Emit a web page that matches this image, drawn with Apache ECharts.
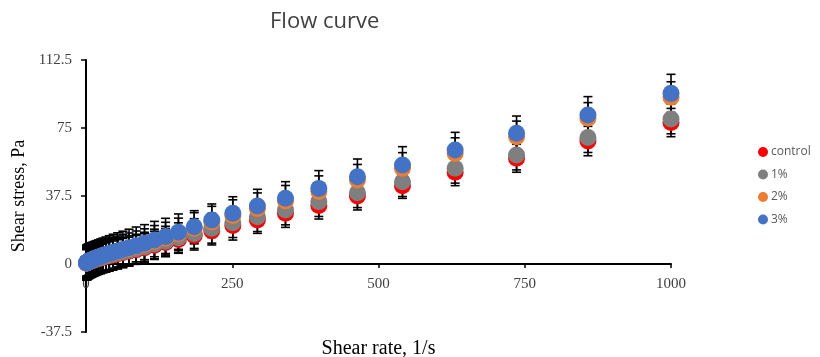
<!DOCTYPE html>
<html>
<head>
<meta charset="utf-8">
<script src="https://cdn.jsdelivr.net/npm/echarts@6/dist/echarts.min.js"></script>
<style>
  html, body { margin: 0; padding: 0; background: #fff; }
  #chart { width: 820px; height: 357px; }
</style>
</head>
<body>
<div id="chart"></div>
<script>
// shear rate, 1/s
const shearRates = [1, 1.17, 1.36, 1.58, 1.85, 2.15, 2.51, 2.93, 3.41, 3.98, 4.64, 5.41, 6.31, 7.36, 8.58, 10,
  11.7, 13.6, 15.8, 18.5, 21.5, 25.1, 29.3, 34.1, 39.8, 46.4, 54.1, 63.1, 73.6, 85.8, 100,
  117, 136, 158, 185, 215, 251, 293, 341, 398, 464, 541, 631, 736, 858, 1000];

// shear stress, Pa
const controlStress = [0.45, 0.55, 0.65, 0.7, 0.75, 0.8, 0.9, 0.95, 1.05, 1.15, 1.2, 1.3, 1.4, 1.5, 1.7, 1.85,
  2.0, 2.2, 2.5, 2.7, 3.0, 3.3, 3.7, 4.1, 4.5, 5.0, 5.6, 6.3, 7.0, 7.9, 8.9,
  10.3, 11.8, 13.5, 15.7, 18.3, 21.2, 24.3, 28.0, 32.2, 37.5, 43.2, 50.6, 58.3, 67.8, 78.0];
const stress1 = [0.5, 0.6, 0.7, 0.75, 0.8, 0.85, 0.95, 1.0, 1.1, 1.2, 1.3, 1.4, 1.5, 1.6, 1.8, 1.95,
  2.1, 2.4, 2.6, 2.9, 3.2, 3.5, 3.9, 4.4, 4.8, 5.4, 6.0, 6.7, 7.5, 8.4, 9.5,
  11.0, 12.6, 14.5, 16.8, 19.7, 22.8, 26.1, 29.8, 34.4, 39.3, 45.4, 52.8, 60.1, 69.7, 80.0];
const stress2 = [0.55, 0.65, 0.75, 0.8, 0.9, 0.95, 1.05, 1.15, 1.25, 1.35, 1.45, 1.55, 1.7, 1.8, 2.0, 2.2,
  2.4, 2.7, 3.0, 3.3, 3.6, 4.0, 4.5, 5.0, 5.5, 6.2, 6.9, 7.7, 8.6, 9.7, 10.9,
  12.6, 14.4, 16.7, 19.7, 23.2, 26.8, 30.6, 34.7, 40.0, 46.3, 52.8, 61.0, 70.2, 80.4, 91.9];
const stress3 = [0.6, 0.7, 0.8, 0.85, 0.95, 1.0, 1.1, 1.2, 1.3, 1.4, 1.5, 1.6, 1.8, 1.9, 2.1, 2.3,
  2.5, 2.8, 3.1, 3.4, 3.8, 4.2, 4.7, 5.2, 5.8, 6.5, 7.2, 8.0, 9.0, 10.1, 11.4,
  13.2, 15.1, 17.5, 20.6, 24.3, 28.0, 32.0, 36.2, 41.7, 48.1, 54.6, 62.9, 72.1, 82.2, 94.1];

// standard deviations, Pa
const controlSd = [7.5, 7.5, 7.5, 7.5, 7.5, 7.5, 7.5, 7.5, 7.5, 7.5, 7.5, 7.5, 7.5, 7.5, 7.5, 7.5,
  7.5, 7.5, 7.6, 7.6, 7.6, 7.6, 7.7, 7.7, 7.7, 7.7, 7.8, 7.8, 7.8, 7.8, 7.8,
  7.8, 7.8, 7.6, 8.0, 7.8, 8.0, 7.4, 7.8, 7.4, 7.7, 7.0, 7.4, 7.7, 8.1, 7.8];
const sd1 = [8.0, 8.0, 8.0, 8.0, 8.0, 8.0, 8.0, 8.0, 8.0, 8.0, 8.0, 8.0, 8.0, 8.0, 8.0, 8.0,
  8.0, 8.0, 8.0, 8.0, 8.0, 8.0, 8.0, 8.0, 8.0, 8.0, 8.0, 8.0, 8.0, 8.0, 8.0,
  8.2, 8.2, 8.2, 8.2, 8.2, 8.2, 8.2, 8.2, 8.2, 8.2, 8.2, 8.2, 8.2, 8.2, 8.2];
const sd2 = [8.5, 8.5, 8.5, 8.5, 8.5, 8.5, 8.5, 8.5, 8.5, 8.5, 8.5, 8.5, 8.5, 8.5, 8.5, 8.5,
  8.5, 8.5, 8.5, 8.5, 8.5, 8.5, 8.5, 8.5, 8.5, 8.5, 8.5, 8.5, 8.5, 8.5, 8.5,
  8.6, 8.6, 8.6, 8.6, 8.6, 8.6, 8.6, 8.6, 8.6, 8.6, 8.6, 8.6, 8.6, 8.6, 8.6];
const sd3 = [9.5, 9.5, 9.5, 9.5, 9.5, 9.5, 9.5, 9.5, 9.5, 9.5, 9.5, 9.5, 9.5, 9.5, 9.5, 9.5,
  9.5, 9.5, 9.5, 9.5, 9.5, 9.6, 9.6, 9.7, 9.8, 9.9, 10.0, 10.1, 10.2, 10.3, 10.3,
  10.3, 10.1, 10.1, 8.8, 8.8, 9.1, 9.2, 9.2, 9.8, 9.8, 10.1, 9.7, 9.5, 10.1, 10.5];

const seriesNames = ['control', '1%', '2%', '3%'];
const seriesColors = ['#ff0000', '#7f7f7f', '#ed7d31', '#4472c4'];
const seriesValues = [controlStress, stress1, stress2, stress3];
const seriesSd = [controlSd, sd1, sd2, sd3];

const serif = 'Liberation Serif';

const errorBars = (values, sd) => ({
  type: 'custom',
  silent: true,
  z: 1,
  data: shearRates.map((x, i) => [x, values[i] - sd[i], values[i] + sd[i]]),
  encode: { x: 0, y: [1, 2] },
  renderItem: (params, api) => {
    const lo = api.coord([api.value(0), api.value(1)]);
    const hi = api.coord([api.value(0), api.value(2)]);
    const half = 4.5;
    const style = { stroke: '#000', lineWidth: 1.6 };
    return {
      type: 'group',
      children: [
        { type: 'line', shape: { x1: lo[0], y1: lo[1], x2: hi[0], y2: hi[1] }, style },
        { type: 'line', shape: { x1: lo[0] - half, y1: lo[1], x2: lo[0] + half, y2: lo[1] }, style },
        { type: 'line', shape: { x1: hi[0] - half, y1: hi[1], x2: hi[0] + half, y2: hi[1] }, style },
      ],
    };
  },
});

const series = [];
seriesNames.forEach((name, k) => {
  series.push(errorBars(seriesValues[k], seriesSd[k]));
});
seriesNames.forEach((name, k) => {
  series.push({
    name,
    type: 'scatter',
    z: 3,
    symbol: 'circle',
    symbolSize: 17,
    itemStyle: { color: seriesColors[k], opacity: 1 },
    data: shearRates.map((x, i) => [x, seriesValues[k][i]]),
  });
});

const myChart = echarts.init(document.getElementById('chart'));

const option = {
  animation: false,
  title: {
    text: 'Flow curve',
    left: 265,
    top: 6,
    textStyle: { fontFamily: 'Open Sans', fontSize: 22, fontWeight: 'normal', color: '#404040' },
  },
  legend: {
    data: seriesNames,
    orient: 'vertical',
    left: 753,
    top: 141,
    itemWidth: 10,
    itemHeight: 10,
    itemGap: 10.5,
    icon: 'circle',
    textStyle: { fontFamily: 'Open Sans', fontSize: 12, color: '#595959', padding: [0, 0, 0, -2] },
  },
  grid: { left: 86, right: 149, top: 60, bottom: 25, containLabel: false, outerBoundsMode: 'none' },
  xAxis: {
    type: 'value',
    min: 0,
    max: 1000,
    interval: 250,
    offset: -68,
    name: 'Shear rate, 1/s',
    nameLocation: 'middle',
    nameGap: 75,
    nameTextStyle: { fontFamily: serif, fontSize: 20, color: '#000' },
    axisLine: { onZero: false, lineStyle: { color: '#000', width: 2 } },
    axisTick: { show: true, length: 4, lineStyle: { color: '#000', width: 1.5 } },
    axisLabel: {
      margin: 13, fontFamily: serif, fontSize: 15, color: '#404040',
      showMinLabel: true, hideOverlap: false, formatter: (v) => String(v),
    },
    splitLine: { show: false },
  },
  yAxis: {
    type: 'value',
    min: -37.5,
    max: 112.5,
    interval: 37.5,
    name: 'Shear stress, Pa',
    nameLocation: 'middle',
    nameGap: 58,
    nameTextStyle: { fontFamily: serif, fontSize: 18, color: '#000' },
    axisLine: { show: true, onZero: false, lineStyle: { color: '#000', width: 2 } },
    axisTick: { show: true, length: 5, lineStyle: { color: '#000', width: 1.5 } },
    axisLabel: { margin: 14, fontFamily: serif, fontSize: 15, color: '#404040', formatter: (v) => String(v) },
    splitLine: { show: false },
  },
  series,
};

option && myChart.setOption(option);
</script>
</body>
</html>
